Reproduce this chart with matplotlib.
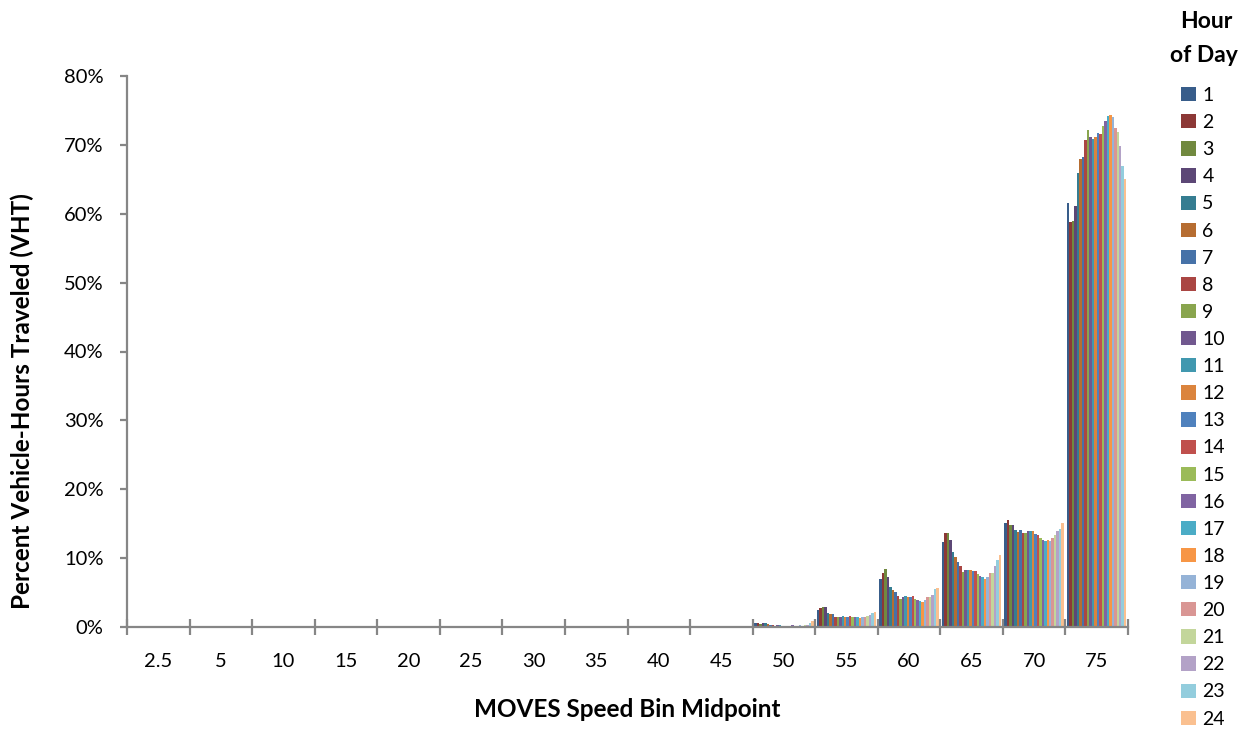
import numpy as np
import matplotlib
matplotlib.use("Agg")
import matplotlib.pyplot as plt
from matplotlib.patches import Patch

plt.rcParams["font.family"] = ["Lato", "DejaVu Sans"]

speed_bins = ["2.5", "5", "10", "15", "20", "25", "30", "35", "40", "45",
              "50", "55", "60", "65", "70", "75"]
hours = [str(h) for h in range(1, 25)]

# Percent of vehicle-hours traveled, one list per speed bin, hours 1..24
vht_20 = [0, 0, 0, 0, 0, 0, 0, 0, 0, 0, 0, 0.1, 0, 0, 0, 0, 0, 0.15, 0, 0, 0, 0, 0, 0.15]
vht_50 = [0.65, 0.65, 0.5, 0.6, 0.55, 0.4, 0.35, 0.25, 0.2, 0.3, 0.25, 0.2,
          0.2, 0.2, 0.2, 0.25, 0.2, 0.2, 0.25, 0.2, 0.25, 0.35, 0.65, 0.8]
vht_55 = [2.4, 2.7, 2.9, 2.9, 2.0, 1.85, 1.85, 1.4, 1.4, 1.5, 1.55, 1.5,
          1.5, 1.6, 1.5, 1.5, 1.4, 1.35, 1.4, 1.5, 1.55, 1.7, 2.1, 2.15]
vht_60 = [6.9, 7.8, 8.4, 7.3, 5.85, 5.4, 5.1, 4.5, 4.0, 4.3, 4.5, 4.3,
          4.3, 4.5, 4.1, 3.9, 3.8, 3.6, 3.9, 4.3, 4.3, 4.7, 5.5, 5.65]
vht_65 = [12.4, 13.7, 13.6, 12.6, 10.9, 10.1, 9.4, 8.85, 8.0, 8.3, 8.3, 8.3,
          8.1, 8.1, 7.7, 7.4, 7.2, 7.0, 7.2, 7.9, 7.9, 8.85, 9.8, 10.5]
vht_70 = [15.05, 15.5, 14.85, 14.85, 14.1, 13.8, 14.1, 13.7, 13.6, 14.0, 14.0, 13.9,
          13.5, 13.4, 12.9, 12.7, 12.5, 12.7, 12.5, 12.9, 13.4, 14.0, 14.2, 15.05]
vht_75 = [61.5, 58.8, 58.9, 61.1, 65.9, 67.9, 68.3, 70.7, 72.2, 71.1, 70.8, 71.2,
          71.7, 71.6, 72.7, 73.5, 74.2, 74.3, 74.1, 72.4, 71.8, 69.8, 67.0, 65.1]

zeros = [0.0] * 24
by_bin = {"2.5": zeros, "5": zeros, "10": zeros, "15": zeros, "20": vht_20,
          "25": zeros, "30": zeros, "35": zeros, "40": zeros, "45": zeros,
          "50": vht_50, "55": vht_55, "60": vht_60, "65": vht_65,
          "70": vht_70, "75": vht_75}
values = np.array([by_bin[b] for b in speed_bins]) / 100.0  # shape (bins, hours)

colors = ["#385D8A", "#8C3836", "#71893F", "#5C4776", "#357D91", "#B66D31",
          "#4672A8", "#AA4643", "#89A54E", "#71588F", "#4198AF", "#DB843D",
          "#4F81BD", "#C0504D", "#9BBB59", "#8064A2", "#4BACC6", "#F79646",
          "#95B3D7", "#D99694", "#C3D69B", "#B3A2C7", "#93CDDD", "#FAC090"]

fig = plt.figure(figsize=(12.52, 7.34), dpi=100)
ax = fig.add_axes([127 / 1252, 1 - 627 / 734, (1128 - 127) / 1252, (627 - 76) / 734])

n_bins, n_hours = values.shape
group_w = 0.95
bar_w = group_w / n_hours
x0 = np.arange(n_bins) + (1 - group_w) / 2
for h in range(n_hours):
    ax.bar(x0 + h * bar_w, values[:, h], width=bar_w, align="edge",
           color=colors[h], linewidth=0, label=hours[h])

ax.set_xlim(0, n_bins)
ax.set_ylim(0, 0.8)

grey = "#868686"
for side in ("top", "right"):
    ax.spines[side].set_visible(False)
for side in ("left", "bottom"):
    ax.spines[side].set_color(grey)
    ax.spines[side].set_linewidth(1.6)

# category boundaries carry the tick marks, centres carry the labels
ax.set_xticks(np.arange(n_bins + 1))
ax.set_xticklabels([])
ax.tick_params(axis="x", which="major", direction="inout", length=11.5,
               width=1.6, color=grey)
ax.set_xticks(np.arange(n_bins) + 0.5, minor=True)
ax.set_xticklabels(speed_bins, minor=True, fontsize=14.5)
ax.tick_params(axis="x", which="minor", length=0, pad=19)

yt = np.arange(0, 0.81, 0.1)
ax.set_yticks(yt)
ax.set_yticklabels([f"{int(round(v * 100))}%" for v in yt], fontsize=14.5)
ax.tick_params(axis="y", direction="out", length=5, width=1.6, color=grey, pad=12)

ax.set_ylabel("Percent Vehicle-Hours Traveled (VHT)", fontsize=17.5,
              fontweight="bold")
ax.yaxis.set_label_coords(-0.093, 0.41)
ax.set_xlabel("MOVES Speed Bin Midpoint", fontsize=17.5, fontweight="bold",
              labelpad=20)

fig.text(1206 / 1252, 1 - 22 / 734, "Hour", ha="center", va="center",
         fontsize=16.5, fontweight="bold")
fig.text(1204 / 1252, 1 - 56 / 734, "of Day", ha="center", va="center",
         fontsize=16.5, fontweight="bold")

handles = [Patch(facecolor=c, edgecolor="none") for c in colors]
leg = fig.legend(handles, hours, loc="upper left",
                 bbox_to_anchor=(1181 / 1252, 1 - 87 / 734),
                 frameon=False, fontsize=14, handlelength=0.75,
                 handleheight=0.75, handletextpad=0.35, labelspacing=0.52,
                 borderaxespad=0, borderpad=0)

fig.savefig("out.png", dpi=100)
